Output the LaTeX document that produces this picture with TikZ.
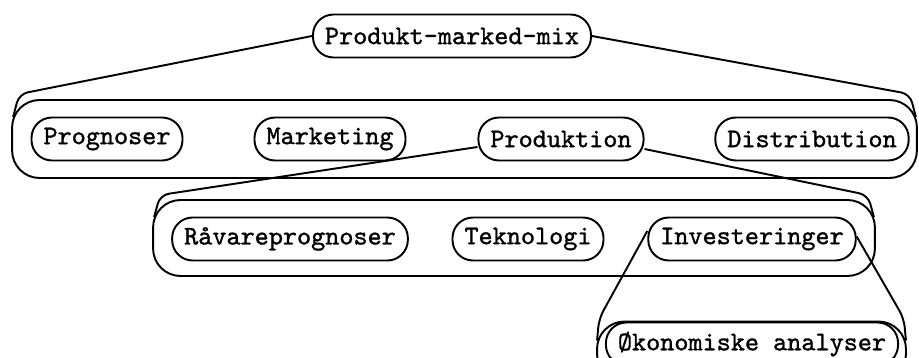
\documentclass[tikz,border=0pt]{standalone}
\usepackage{fontspec}
\usepackage{tikz}
\newfontfamily\typewriter[FakeBold=1.2]{lmmono10-regular.otf}

\begin{document}
\begin{tikzpicture}[x=0.02cm, y=-0.02cm, line width=1.1pt,
        item/.style={draw, rounded corners=0.41cm, minimum height=0.86cm, inner xsep=0.24cm,
            font=\typewriter\fontsize{15.3}{17}\selectfont},
        group/.style={draw, rounded corners=0.55cm, inner sep=0pt},
        curl/.style={rounded corners=5pt}]
        \useasboundingbox (0,0) rectangle (919,358);
        \clip (0,0) rectangle (919,358);
        % Top level
        \node[item] (mix) at (452,36) {Produkt-marked-mix};
        % First level group
        \node[group, minimum width=18.1cm, minimum height=1.56cm] (lvlone) at (464.5,139) {};
        \node[item] (progn) at (107,139) {Prognoser};
        \node[item] (mark) at (330,139) {Marketing};
        \node[item] (prod) at (561,139) {Produktion};
        \node[item] (dist) at (812,139) {Distribution};
        % Second level group
        \node[group, minimum width=14.44cm, minimum height=1.52cm] (lvltwo) at (514,238) {};
        \node[item] (raav) at (290,239) {Råvareprognoser};
        \node[item] (tekn) at (528,239) {Teknologi};
        \node[item] (inv) at (752,239) {Investeringer};
        % Third level group (runs off the page)
        \node[group, minimum width=6.18cm, minimum height=1.2cm] (lvlthree) at (751.5,351.5) {};
        \node[item] (oek) at (752,344) {Økonomiske analyser};
        % Connectors, curling into the group outline
        \draw[curl] (mix.west) -- ([shift={(8,-5)}]lvlone.north west) -- ([shift={(2,18)}]lvlone.north west);
        \draw[curl] (mix.east) -- ([shift={(-8,-5)}]lvlone.north east) -- ([shift={(-2,18)}]lvlone.north east);
        \draw[curl] ([yshift=-0.16cm]prod.west) -- ([shift={(8,-4)}]lvltwo.north west) -- ([shift={(2,18)}]lvltwo.north west);
        \draw[curl] ([yshift=-0.2cm]prod.east) -- ([shift={(-8,-4)}]lvltwo.north east) -- ([shift={(-2,18)}]lvltwo.north east);
        \draw[curl] ([yshift=0.16cm]inv.west) -- ([shift={(3,-2)}]lvlthree.north west) -- ([shift={(1,20)}]lvlthree.north west);
        \draw[curl] ([yshift=0.05cm]inv.east) -- ([shift={(-3,-2)}]lvlthree.north east) -- ([shift={(-1,20)}]lvlthree.north east);
    \end{tikzpicture}
\end{document}
